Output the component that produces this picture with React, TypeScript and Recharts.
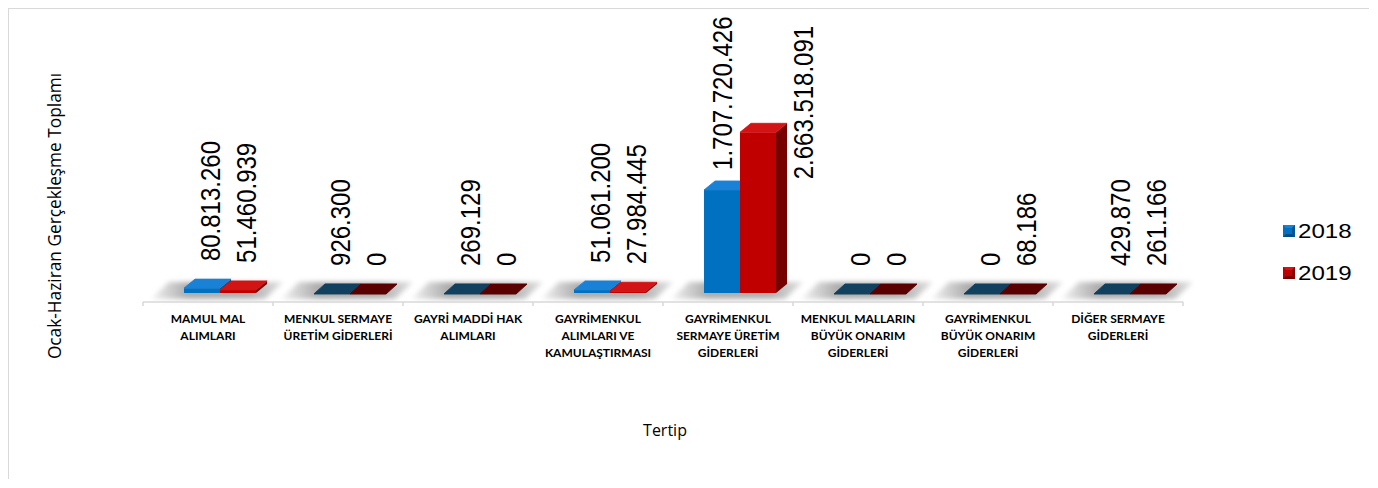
import React from 'react';
import { BarChart, Bar, XAxis, YAxis, LabelList } from 'recharts';

const categories = [
  'MAMUL MAL ALIMLARI',
  'MENKUL SERMAYE ÜRETİM GİDERLERİ',
  'GAYRİ MADDİ HAK ALIMLARI',
  'GAYRİMENKUL ALIMLARI VE KAMULAŞTIRMASI',
  'GAYRİMENKUL SERMAYE ÜRETİM GİDERLERİ',
  'MENKUL MALLARIN BÜYÜK ONARIM GİDERLERİ',
  'GAYRİMENKUL BÜYÜK ONARIM GİDERLERİ',
  'DİĞER SERMAYE GİDERLERİ',
];
const categoryLines = [
  ['MAMUL MAL', 'ALIMLARI'],
  ['MENKUL SERMAYE', 'ÜRETİM GİDERLERİ'],
  ['GAYRİ MADDİ HAK', 'ALIMLARI'],
  ['GAYRİMENKUL', 'ALIMLARI VE', 'KAMULAŞTIRMASI'],
  ['GAYRİMENKUL', 'SERMAYE ÜRETİM', 'GİDERLERİ'],
  ['MENKUL MALLARIN', 'BÜYÜK ONARIM', 'GİDERLERİ'],
  ['GAYRİMENKUL', 'BÜYÜK ONARIM', 'GİDERLERİ'],
  ['DİĞER SERMAYE', 'GİDERLERİ'],
];
const values2018 = [80813260, 926300, 269129, 51061200, 1707720426, 0, 0, 429870];
const values2019 = [51460939, 0, 0, 27984445, 2663518091, 0, 68186, 261166];
const seriesNames = ['2018', '2019'];
const yDomain = [0, 3000000000];
const xTitle = 'Tertip';
const yTitle = 'Ocak-Haziran Gerçekleşme Toplamı';

const data = categories.map((c, i) => ({
  name: c,
  lines: categoryLines[i],
  v2018: values2018[i],
  v2019: values2019[i],
}));

const fmt = (v: number) => String(v).replace(/\B(?=(\d{3})+(?!\d))/g, '.');

// 3D styling constants
const SHIFT_X = 12;
const SHIFT_Y = 9;
const DEPTH_X = 11;
const DEPTH_Y = 9;

const palettes: Record<string, any> = {
  blue: { front: '#0070c0', top: '#1a82d6', side: '#004d86', flat: '#12405f' },
  red: { front: '#c00000', top: '#d21414', side: '#760000', flat: '#5a0000' },
};

const makeShape = (pal: any) => (props: any) => {
  const { x, y, width, height } = props;
  const X = x + SHIFT_X;
  const h = Math.max(0, height || 0);
  const Yb = y + h - SHIFT_Y;
  const Yt = Yb - h;
  const w = width;
  if (h < 1) {
    const dY = DEPTH_Y + 1;
    const pts = `${X},${Yt + 1} ${X + w},${Yt + 1} ${X + w + DEPTH_X},${Yt + 1 - dY} ${X + DEPTH_X},${Yt + 1 - dY}`;
    return <polygon points={pts} fill={pal.flat} stroke={pal.flat} strokeWidth={1} strokeLinejoin="round" />;
  }
  const topPts = `${X},${Yt} ${X + w},${Yt} ${X + w + DEPTH_X},${Yt - DEPTH_Y} ${X + DEPTH_X},${Yt - DEPTH_Y}`;
  const sidePts = `${X + w},${Yt} ${X + w + DEPTH_X},${Yt - DEPTH_Y} ${X + w + DEPTH_X},${Yb - DEPTH_Y} ${X + w},${Yb}`;
  return (
    <g>
      <polygon points={sidePts} fill={pal.side} />
      <rect x={X} y={Yt} width={w} height={h} fill={pal.front} />
      <polygon points={topPts} fill={pal.top} stroke={pal.top} strokeWidth={0.8} strokeLinejoin="round" />
    </g>
  );
};

const FloorBackground = (props: any) => {
  const { x, y, height, width, index } = props;
  const base = y + height;
  const cs = x - 29;
  const ce = x + width * 2 + 29;
  const pts = `${cs + 8},${base - 3} ${ce - 8},${base - 3} ${ce + 10},${base - 20} ${cs + 26},${base - 20}`;
  return (
    <g>
      {index === 0 && (
        <defs>
          <filter id="floorBlur" x="-10%" y="-50%" width="120%" height="200%">
            <feGaussianBlur stdDeviation="2.4" />
          </filter>
          <linearGradient id="floorGrad" x1="0" y1="0" x2="1" y2="0">
            <stop offset="0%" stopColor="#f4f4f4" />
            <stop offset="28%" stopColor="#acacac" />
            <stop offset="75%" stopColor="#b0b0b0" />
            <stop offset="100%" stopColor="#e2e2e2" />
          </linearGradient>
        </defs>
      )}
      <polygon points={pts} fill="url(#floorGrad)" filter="url(#floorBlur)" />
    </g>
  );
};

const makeLabel = () => (props: any) => {
  const { x, y, width, height, value } = props;
  const text = fmt(Number(value));
  const h = Math.max(0, height || 0);
  const frontTop = y - SHIFT_Y;
  const tall = h > 50;
  let lx = x + SHIFT_X + width / 2 + (tall ? 0 : 8);
  let bottom = frontTop - (tall ? 20 : 27);
  const len = text.length * 12.1;
  if (bottom - len < -10) {
    lx = x + SHIFT_X + width + 27;
    bottom = 13 + len;
  }
  return (
    <text
      transform={`translate(${lx},${bottom}) scale(1.15,1) rotate(-90)`}
      x={0}
      y={0}
      dy="0.36em"
      fontFamily="'Liberation Sans', Arial, sans-serif"
      fontSize={24}
      fill="#000"
      textAnchor="start"
    >
      {text}
    </text>
  );
};

const CategoryTick = (props: any) => {
  const { x, y, payload, index } = props;
  const idx = payload.index ?? index;
  const lines: string[] = categoryLines[idx] || [String(payload.value)];
  const half = 65;
  return (
    <g>
      <line x1={x - half} y1={y - 8} x2={x - half} y2={y - 4} stroke="#d9d9d9" strokeWidth={1.5} />
      {idx === categories.length - 1 && (
        <line x1={x + half} y1={y - 8} x2={x + half} y2={y - 4} stroke="#d9d9d9" strokeWidth={1.5} />
      )}
      {lines.map((l, i) => (
        <text
          key={i}
          x={x}
          y={y + 13 + i * 17}
          textAnchor="middle"
          fontFamily="Lato, 'Open Sans', sans-serif"
          fontWeight={700}
          fontSize={12}
          fill="#000"
        >
          {l}
        </text>
      ))}
    </g>
  );
};

const LegendIcon = ({ pal, x, y }: any) => (
  <g transform={`translate(${x},${y})`}>
    <rect x={0} y={0} width={12} height={12} fill={pal.front} />
    <polygon points="0,0 12,0 9,3 3,3" fill={pal.top} />
    <polygon points="0,12 12,12 9,9 3,9" fill={pal.side} />
    <polygon points="12,0 12,12 9,9 9,3" fill={pal.side} opacity={0.7} />
  </g>
);

export default function App() {
  const W = 1360;
  const H = 470;
  return (
    <div
      style={{
        position: 'relative',
        width: W,
        height: H,
        borderTop: '1px solid #d9d9d9',
        borderLeft: '1px solid #d9d9d9',
        overflow: 'hidden',
        background: '#fff',
      }}
    >
      <BarChart
        width={W}
        height={H}
        data={data}
        margin={{ top: 112, right: 186, bottom: 117, left: 134 }}
        barSize={36}
        barGap={0}
      >
        <YAxis hide domain={yDomain} />
        <XAxis
          dataKey="name"
          height={60}
          interval={0}
          axisLine={{ stroke: '#d9d9d9', strokeWidth: 1.5 }}
          tickLine={false}
          tick={<CategoryTick />}
        />
        <Bar
          dataKey="v2018"
          name={seriesNames[0]}
          fill={palettes.blue.front}
          isAnimationActive={false}
          background={<FloorBackground />}
          shape={makeShape(palettes.blue)}
        >
          <LabelList dataKey="v2018" content={makeLabel()} />
        </Bar>
        <Bar
          dataKey="v2019"
          name={seriesNames[1]}
          fill={palettes.red.front}
          isAnimationActive={false}
          shape={makeShape(palettes.red)}
        >
          <LabelList dataKey="v2019" content={makeLabel()} />
        </Bar>
      </BarChart>
      <svg
        width={W}
        height={H}
        style={{ position: 'absolute', left: 0, top: 0, pointerEvents: 'none' }}
      >
        <text
          transform="translate(52,207) rotate(-90)"
          textAnchor="middle"
          fontFamily="'Open Sans', sans-serif"
          fontSize={17.3}
          fill="#000"
        >
          {yTitle}
        </text>
        <text
          x={656}
          y={427}
          textAnchor="middle"
          fontFamily="'Open Sans', sans-serif"
          fontSize={16}
          fill="#000"
        >
          {xTitle}
        </text>
        <LegendIcon pal={palettes.blue} x={1274} y={216} />
        <text
          transform="translate(1289,229) scale(1.15,1)"
          fontFamily="'Liberation Sans', Arial, sans-serif"
          fontSize={21}
          fill="#000"
        >
          {seriesNames[0]}
        </text>
        <LegendIcon pal={palettes.red} x={1274} y={258} />
        <text
          transform="translate(1289,271) scale(1.15,1)"
          fontFamily="'Liberation Sans', Arial, sans-serif"
          fontSize={21}
          fill="#000"
        >
          {seriesNames[1]}
        </text>
      </svg>
    </div>
  );
}
